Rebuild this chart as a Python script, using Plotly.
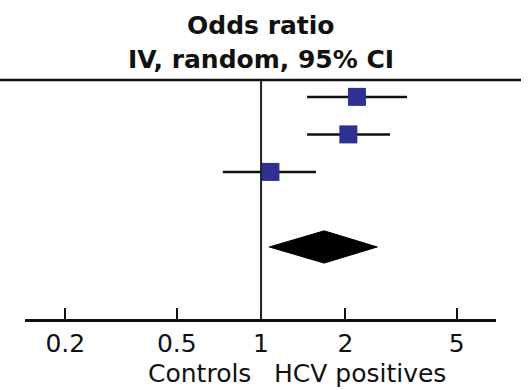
import plotly.graph_objects as go

# Study-level odds ratios with 95% confidence limits (top to bottom)
study_rows = [1, 2, 3]
study_or = [2.20, 2.05, 1.08]
study_lo = [1.46, 1.46, 0.73]
study_hi = [3.32, 2.89, 1.57]

# Pooled random-effects estimate
pooled_row = 5
pooled_or = 1.68
pooled_lo = 1.07
pooled_hi = 2.60

tick_vals = [0.2, 0.5, 1, 2, 5]
tick_text = ["0.2", "0.5", "1", "2", "5"]

FONT = "DejaVu Sans"
BLUE = "#2E3192"

fig = go.Figure()

# confidence interval whiskers
ci_x, ci_y = [], []
for r, lo, hi in zip(study_rows, study_lo, study_hi):
    ci_x += [lo, hi, None]
    ci_y += [r, r, None]
fig.add_trace(go.Scatter(x=ci_x, y=ci_y, mode="lines",
                         line=dict(color="#111111", width=2.5),
                         hoverinfo="skip", showlegend=False))

# point estimates
fig.add_trace(go.Scatter(x=study_or, y=study_rows, mode="markers",
                         marker=dict(symbol="square", size=18, color=BLUE,
                                     line=dict(width=0)),
                         showlegend=False))

# pooled diamond
h = 0.43
fig.add_trace(go.Scatter(
    x=[pooled_lo, pooled_or, pooled_hi, pooled_or, pooled_lo],
    y=[pooled_row, pooled_row - h, pooled_row, pooled_row + h, pooled_row],
    mode="lines", fill="toself", fillcolor="#000000",
    line=dict(color="#000000", width=1), showlegend=False))

# annotations on a log axis take log10 positions; 0 is OR = 1
NULL_POS = 0

fig.update_layout(
    width=529, height=390,
    margin=dict(l=25, r=33, t=80, b=71),
    paper_bgcolor="white", plot_bgcolor="white",
    font=dict(family=FONT, color="#111111"),
    xaxis=dict(type="log", range=[-0.843, 0.839],
               tickvals=tick_vals, ticktext=tick_text,
               tickfont=dict(size=25, family=FONT, color="#111111"),
               showline=True, linecolor="#111111", linewidth=2.5,
               ticks="inside", ticklen=11, tickwidth=2, tickcolor="#111111",
               showgrid=False, zeroline=False),
    yaxis=dict(range=[6.92, 0.55], visible=False),
    shapes=[
        # line of no effect
        dict(type="line", xref="x", yref="paper", x0=1, x1=1, y0=0, y1=1,
             line=dict(color="#222222", width=2)),
        # header rule
        dict(type="line", xref="paper", yref="paper", x0=-0.06, x1=1.053,
             y0=1, y1=1, line=dict(color="#111111", width=2.5)),
    ],
    annotations=[
        dict(text="<b>Odds ratio</b>", x=NULL_POS, xref="x", y=1.23,
             yref="paper", xanchor="center", yanchor="middle",
             showarrow=False, font=dict(size=25, family=FONT)),
        dict(text="<b>IV, random, 95% CI</b>", x=NULL_POS, xref="x", y=1.084,
             yref="paper", xanchor="center", yanchor="middle",
             showarrow=False, font=dict(size=25, family=FONT)),
        dict(text="Controls", x=NULL_POS, xref="x", y=-0.226, yref="paper",
             xanchor="right", yanchor="middle", xshift=-8, showarrow=False,
             font=dict(size=25, family=FONT)),
        dict(text="HCV positives", x=NULL_POS, xref="x", y=-0.226,
             yref="paper", xanchor="left", yanchor="middle", xshift=11,
             showarrow=False, font=dict(size=25, family=FONT)),
    ],
)

fig.write_html("out.html")
